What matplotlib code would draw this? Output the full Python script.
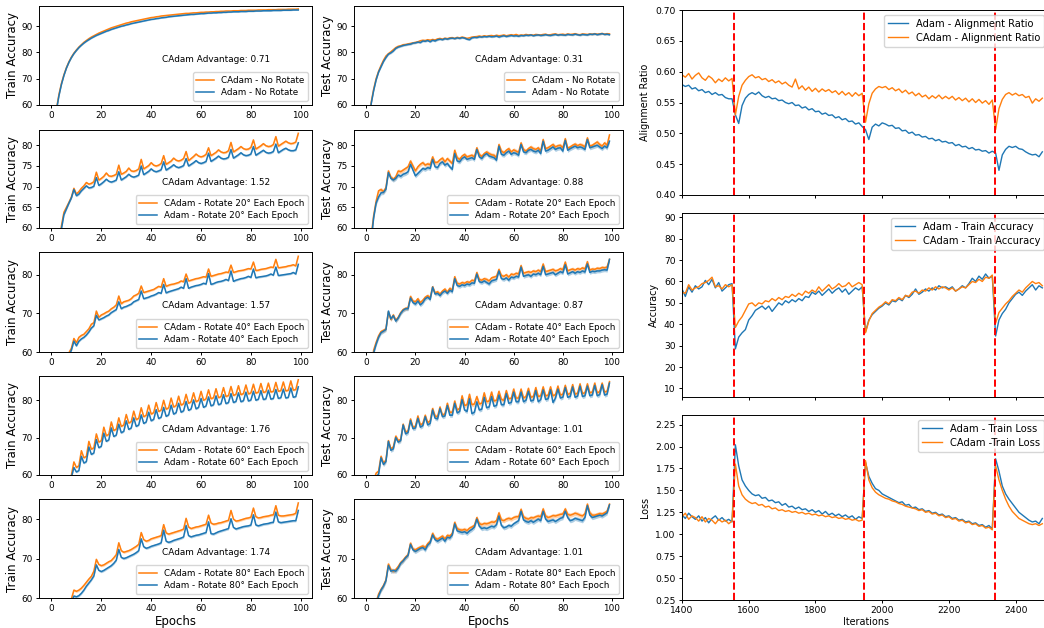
import matplotlib.pyplot as plt
import numpy as np

# ---------------- data: left grid (accuracy per epoch, 100 epochs) ----------------
epochs = np.arange(100)

row_names = ['No Rotate', 'Rotate 20° Each Epoch', 'Rotate 40° Each Epoch',
             'Rotate 60° Each Epoch', 'Rotate 80° Each Epoch']
train_advantage = [0.71, 1.52, 1.57, 1.76, 1.74]
test_advantage = [0.31, 0.88, 0.87, 1.01, 1.01]
train_band = [0.2, 0.25, 0.25, 0.25, 0.3]   # std half width
test_band = [0.35, 0.5, 0.5, 0.55, 0.55]

adam_train_nr = [38, 50, 58, 63.5, 67.8, 71.2, 74.0, 76.2, 78.0, 79.5,
                 80.7, 81.8, 82.7, 83.5, 84.2, 84.8, 85.4, 85.9, 86.4, 86.8,
                 87.2, 87.6, 88.0, 88.3, 88.7, 89.0, 89.3, 89.6, 89.9, 90.1,
                 90.4, 90.6, 90.9, 91.1, 91.3, 91.5, 91.7, 91.9, 92.1, 92.3,
                 92.5, 92.6, 92.8, 92.9, 93.1, 93.2, 93.3, 93.5, 93.6, 93.7,
                 93.8, 93.9, 94.0, 94.1, 94.2, 94.3, 94.4, 94.4, 94.5, 94.6,
                 94.7, 94.7, 94.8, 94.9, 94.9, 95.0, 95.0, 95.1, 95.1, 95.2,
                 95.2, 95.3, 95.3, 95.4, 95.4, 95.4, 95.5, 95.5, 95.5, 95.6,
                 95.6, 95.6, 95.7, 95.7, 95.7, 95.8, 95.8, 95.8, 95.8, 95.9,
                 95.9, 95.9, 95.9, 96.0, 96.0, 96.0, 96.0, 96.1, 96.1, 96.1]
cadam_train_nr = [37, 50, 58.5, 64, 68.2, 71.5, 74.2, 76.4, 78.2, 79.7,
                  80.9, 82.0, 82.9, 83.8, 84.5, 85.2, 85.8, 86.3, 86.8, 87.3,
                  87.7, 88.1, 88.5, 88.9, 89.3, 89.6, 89.9, 90.2, 90.5, 90.8,
                  91.1, 91.3, 91.6, 91.8, 92.0, 92.2, 92.4, 92.6, 92.8, 93.0,
                  93.2, 93.3, 93.5, 93.6, 93.8, 93.9, 94.0, 94.1, 94.2, 94.3,
                  94.4, 94.5, 94.6, 94.7, 94.8, 94.8, 94.9, 95.0, 95.0, 95.1,
                  95.2, 95.2, 95.3, 95.3, 95.4, 95.4, 95.5, 95.5, 95.6, 95.6,
                  95.7, 95.7, 95.7, 95.8, 95.8, 95.8, 95.9, 95.9, 95.9, 96.0,
                  96.0, 96.0, 96.0, 96.1, 96.1, 96.1, 96.1, 96.2, 96.2, 96.2,
                  96.2, 96.3, 96.3, 96.3, 96.3, 96.4, 96.4, 96.4, 96.4, 96.5]
adam_test_nr = [35, 52, 60.5, 65.5, 69.5, 72.5, 74.5, 76.5, 78.0, 79.3,
                79.8, 80.5, 81.5, 82.0, 82.3, 82.6, 82.8, 83.0, 83.1, 83.5,
                83.6, 83.9, 83.7, 84.3, 84.2, 84.5, 84.0, 84.6, 84.3, 84.8,
                85.0, 84.8, 85.2, 85.0, 85.3, 85.4, 85.2, 85.5, 85.3, 85.6,
                85.4, 85.0, 84.8, 85.5, 85.7, 85.6, 85.9, 85.8, 86.0, 85.9,
                86.1, 85.9, 86.0, 86.2, 85.8, 86.1, 86.3, 86.0, 86.2, 86.4,
                86.2, 86.3, 86.1, 86.4, 86.3, 86.5, 86.4, 86.6, 86.3, 86.5,
                86.6, 86.4, 86.5, 86.7, 86.5, 86.4, 86.6, 86.8, 86.5, 86.7,
                86.6, 86.5, 86.8, 86.7, 86.6, 86.9, 86.7, 86.5, 86.8, 86.7,
                86.6, 86.9, 86.8, 87.0, 86.7, 86.9, 87.1, 86.8, 86.9, 86.7]
cadam_test_nr = [36, 53, 61, 66, 70, 72.8, 75.0, 77.0, 78.6, 79.5,
                 80.2, 81.0, 81.8, 82.3, 82.5, 82.9, 83.0, 83.2, 83.4, 83.6,
                 83.8, 84.0, 84.4, 84.6, 84.5, 84.8, 84.6, 84.9, 84.7, 85.1,
                 85.3, 85.0, 85.4, 85.2, 85.5, 85.6, 85.3, 85.7, 85.5, 85.8,
                 85.6, 85.3, 85.5, 85.8, 85.9, 86.0, 86.2, 86.0, 86.3, 86.1,
                 86.3, 86.4, 86.2, 86.5, 86.3, 86.4, 86.6, 86.3, 86.5, 86.7,
                 86.5, 86.8, 86.4, 86.6, 86.5, 86.8, 86.6, 86.7, 86.5, 86.8,
                 86.7, 86.6, 86.8, 86.9, 86.6, 86.7, 86.9, 87.0, 86.7, 86.8,
                 86.9, 86.7, 87.0, 86.8, 86.9, 87.1, 86.8, 86.7, 87.0, 86.9,
                 86.8, 87.0, 86.9, 87.1, 86.9, 87.0, 87.2, 86.9, 87.1, 87.0]

cadam_train_20 = [30, 42, 50, 56, 60.5, 63.8, 65.0, 66.2, 67.5, 69.6,
                  68.2, 68.8, 69.6, 70.2, 71.0, 70.6, 70.8, 71.2, 73.5,
                  71.6, 72.0, 72.5, 73.3, 72.6, 72.5, 72.7, 73.0, 75.2,
                  73.0, 73.3, 73.7, 74.5, 73.8, 73.7, 73.9, 74.3, 76.6,
                  74.3, 74.7, 75.1, 75.8, 75.2, 75.0, 75.2, 75.6, 77.5,
                  75.4, 75.8, 76.2, 76.9, 76.4, 76.2, 76.4, 76.8, 78.5,
                  76.3, 76.8, 77.3, 77.9, 77.4, 77.2, 77.4, 77.8, 79.4,
                  77.5, 77.9, 78.3, 78.9, 78.4, 78.2, 78.3, 78.7, 80.7,
                  78.4, 78.8, 79.2, 79.7, 79.2, 79.0, 79.1, 79.5, 81.3,
                  79.1, 79.5, 79.9, 80.4, 79.9, 79.7, 79.8, 80.2, 82.1,
                  79.8, 80.2, 80.6, 81.0, 80.6, 80.4, 80.5, 80.8, 82.9]
adam_train_20 = [30, 42, 50, 55.5, 59.8, 63.2, 64.6, 66.0, 67.3, 69.3,
                 67.8, 68.2, 69.0, 69.6, 70.2, 69.7, 69.8, 70.1, 72.2,
                 70.3, 70.7, 71.2, 71.8, 71.3, 71.1, 71.3, 71.6, 73.6,
                 71.6, 72.0, 72.4, 73.0, 72.5, 72.3, 72.5, 72.8, 75.0,
                 72.9, 73.3, 73.7, 74.3, 73.8, 73.6, 73.8, 74.1, 76.0,
                 74.0, 74.4, 74.8, 75.3, 74.8, 74.6, 74.8, 75.1, 76.8,
                 75.0, 75.4, 75.8, 76.3, 75.8, 75.6, 75.8, 76.1, 78.1,
                 76.1, 76.5, 76.9, 77.4, 76.9, 76.7, 76.8, 77.1, 79.0,
                 76.9, 77.3, 77.7, 78.2, 77.7, 77.5, 77.6, 77.9, 79.7,
                 77.6, 78.0, 78.4, 78.8, 78.3, 78.1, 78.2, 78.5, 80.3,
                 78.2, 78.6, 79.0, 79.3, 78.9, 78.7, 78.7, 78.9, 80.6]
cadam_test_20 = [35, 50, 58, 63, 66.5, 69.0, 69.3, 68.8, 69.8, 73.8,
                 72.3, 71.8, 72.4, 73.8, 73.6, 74.0, 74.4, 74.8, 76.2,
                 75.0, 73.8, 74.8, 75.4, 75.8, 75.2, 75.5, 75.3, 77.2,
                 75.8, 75.9, 76.5, 76.9, 76.0, 76.8, 76.2, 75.6, 78.8,
                 77.0, 76.6, 77.4, 77.8, 77.2, 77.4, 77.6, 77.2, 79.4,
                 77.8, 77.3, 78.0, 78.4, 78.0, 77.7, 77.6, 77.0, 80.2,
                 78.6, 78.2, 78.8, 79.2, 78.4, 78.9, 78.6, 78.3, 80.6,
                 79.0, 78.6, 79.2, 79.6, 79.2, 79.0, 79.4, 78.6, 81.4,
                 79.2, 79.4, 79.8, 80.2, 79.6, 79.9, 80.0, 79.4, 81.6,
                 79.3, 79.6, 80.0, 80.3, 79.9, 80.2, 80.0, 79.6, 81.8,
                 79.8, 80.0, 80.4, 80.8, 80.2, 79.8, 80.6, 80.0, 82.5]
adam_test_20 = [33, 48, 57, 62.5, 66.0, 67.5, 68.5, 68.6, 69.4, 73.4,
                72.0, 71.6, 72.0, 72.8, 72.5, 73.0, 73.2, 73.6, 75.4,
                74.0, 72.6, 73.2, 73.8, 74.4, 74.2, 74.6, 74.4, 76.6,
                74.8, 74.6, 75.6, 76.0, 75.2, 75.6, 74.8, 74.2, 78.0,
                76.2, 76.0, 76.8, 77.2, 76.6, 76.8, 77.0, 76.6, 79.0,
                77.2, 76.8, 77.6, 78.0, 77.4, 77.2, 77.0, 76.4, 79.8,
                77.8, 77.6, 78.2, 78.6, 77.8, 78.2, 78.0, 77.6, 80.2,
                78.4, 78.2, 78.8, 79.0, 78.6, 78.4, 78.8, 78.0, 81.0,
                78.6, 78.8, 79.2, 79.6, 79.0, 79.3, 79.4, 78.6, 81.2,
                78.8, 79.2, 79.5, 79.8, 79.4, 79.6, 79.4, 79.0, 81.4,
                79.4, 79.6, 79.8, 80.0, 79.6, 79.2, 79.8, 79.4, 81.0]

cadam_train_40 = [25, 35, 42, 48, 52, 55, 57.5, 59.8, 61.0, 63.5,
                  62.4, 63.8, 64.3, 64.6, 65.3, 66.0, 67.2, 67.6, 70.6,
                  69.0, 69.6, 69.9, 70.3, 70.6, 71.2, 71.6, 72.2, 74.5,
                  72.5, 73.0, 73.2, 73.4, 73.8, 74.5, 74.8, 75.2, 77.1,
                  75.4, 75.6, 75.8, 76.0, 76.2, 76.6, 77.0, 76.8, 79.0,
                  77.0, 77.3, 77.5, 77.6, 77.8, 78.0, 78.4, 78.2, 80.2,
                  78.4, 78.6, 78.8, 79.0, 79.1, 79.3, 79.5, 79.4, 81.5,
                  79.6, 79.8, 80.0, 80.2, 80.3, 80.5, 80.7, 80.6, 82.5,
                  80.6, 80.8, 81.0, 81.1, 81.2, 81.4, 81.6, 81.5, 83.3,
                  81.1, 81.2, 81.4, 81.5, 81.6, 81.8, 82.0, 81.9, 84.0,
                  81.8, 81.9, 82.0, 82.1, 82.3, 82.4, 82.6, 82.3, 84.8]
adam_train_40 = [25, 35, 42, 47.5, 51.5, 54.5, 57, 59.0, 60.5, 62.8,
                 61.6, 62.8, 63.4, 63.8, 64.4, 65.2, 66.2, 66.8, 69.5,
                 68.3, 68.6, 68.9, 69.3, 69.6, 70.2, 70.6, 71.0, 73.0,
                 71.2, 71.6, 71.8, 72.1, 72.4, 73.0, 73.3, 73.6, 75.8,
                 73.8, 74.0, 74.2, 74.5, 74.7, 75.0, 75.4, 75.2, 77.5,
                 75.3, 75.6, 75.8, 76.0, 76.2, 76.4, 76.8, 76.5, 79.0,
                 76.5, 76.8, 77.0, 77.2, 77.3, 77.5, 77.8, 77.6, 80.3,
                 77.5, 77.7, 78.0, 78.2, 78.3, 78.5, 78.8, 78.5, 81.0,
                 78.3, 78.6, 78.8, 79.0, 79.1, 79.3, 79.6, 79.3, 81.5,
                 79.2, 79.4, 79.5, 79.6, 79.7, 79.9, 80.2, 79.9, 82.0,
                 79.8, 79.9, 80.0, 80.1, 80.2, 80.3, 80.6, 80.2, 82.7]
cadam_test_40 = [30, 45, 55, 60.5, 62.5, 64.2, 65.3, 65.6, 66.0, 70.4,
                 68.4, 69.6, 68.2, 69.0, 70.2, 71.0, 71.3, 71.4, 74.4,
                 73.2, 73.0, 73.8, 72.8, 73.4, 74.2, 74.6, 74.0, 76.9,
                 75.3, 75.6, 75.0, 75.8, 76.3, 75.5, 76.5, 76.0, 79.5,
                 77.8, 77.6, 78.0, 77.8, 78.2, 78.0, 78.6, 78.4, 80.6,
                 78.8, 78.6, 79.0, 78.8, 78.4, 79.2, 79.4, 79.6, 81.4,
                 79.8, 79.6, 80.0, 79.4, 80.2, 80.0, 80.4, 80.2, 82.4,
                 80.4, 80.6, 80.8, 80.6, 81.0, 80.8, 81.2, 80.8, 82.8,
                 80.8, 81.0, 81.2, 81.4, 81.0, 81.2, 81.6, 81.3, 83.3,
                 81.0, 81.3, 81.5, 81.2, 81.6, 81.4, 81.8, 81.5, 83.4,
                 81.2, 81.5, 81.4, 81.7, 81.6, 81.9, 81.8, 82.0, 84.0]
adam_test_40 = [28, 43, 54, 59.8, 62.0, 63.8, 65.0, 65.4, 65.8, 70.6,
                68.6, 69.4, 68.0, 68.8, 70.0, 70.8, 71.2, 71.2, 74.0,
                72.8, 72.4, 73.2, 72.2, 72.8, 73.8, 74.2, 73.6, 76.8,
                75.0, 75.2, 74.6, 75.4, 75.8, 75.2, 76.0, 75.6, 79.0,
                77.2, 77.0, 77.4, 77.2, 77.6, 77.4, 77.9, 77.8, 80.2,
                78.2, 78.0, 78.4, 78.0, 77.6, 78.4, 78.6, 78.8, 81.0,
                79.0, 78.8, 79.2, 78.6, 79.4, 79.2, 79.6, 79.4, 82.0,
                79.6, 79.8, 80.0, 79.6, 80.2, 80.0, 80.4, 80.0, 82.2,
                80.0, 80.2, 80.4, 80.6, 80.0, 80.4, 80.8, 80.5, 82.6,
                80.2, 80.5, 80.8, 80.4, 80.8, 80.6, 81.0, 80.7, 82.8,
                80.6, 80.9, 80.8, 81.0, 81.0, 81.2, 81.3, 81.2, 84.0]

cadam_train_60 = [20, 30, 38, 44, 49, 53, 56, 58.2, 60.0,
                  63.5, 62.0, 62.5, 66.5, 64.6, 65.0, 69.0, 66.9, 67.3,
                  71.0, 68.8, 69.2, 72.8, 70.5, 70.9, 74.2, 71.9, 72.3,
                  75.3, 73.0, 73.4, 76.2, 73.9, 74.3, 77.1, 74.8, 75.2,
                  78.0, 75.6, 76.0, 78.7, 76.3, 76.7, 79.4, 77.0, 77.4,
                  80.0, 77.6, 78.0, 80.6, 78.2, 78.6, 81.1, 78.7, 79.1,
                  81.6, 79.2, 79.6, 82.0, 79.6, 80.0, 82.4, 80.0, 80.4,
                  82.8, 80.4, 80.7, 83.1, 80.7, 81.0, 83.4, 81.0, 81.3,
                  83.7, 81.3, 81.6, 83.9, 81.5, 81.8, 84.1, 81.7, 82.0,
                  84.3, 81.9, 82.2, 84.5, 82.1, 82.3, 84.6, 82.2, 82.4,
                  84.8, 82.4, 82.6, 84.9, 82.5, 82.7, 85.2, 82.7, 82.9,
                  85.5]
adam_train_60 = [20, 30, 38, 44, 48.5, 52.5, 55.5, 57.8, 59.4,
                 62.0, 60.8, 61.2, 65.0, 63.2, 63.6, 67.5, 65.5, 65.9,
                 69.5, 67.3, 67.7, 71.2, 69.0, 69.4, 72.6, 70.3, 70.7,
                 73.6, 71.3, 71.7, 74.5, 72.2, 72.6, 75.3, 73.0, 73.4,
                 76.1, 73.8, 74.2, 76.8, 74.5, 74.9, 77.5, 75.1, 75.5,
                 78.1, 75.7, 76.1, 78.7, 76.3, 76.7, 79.2, 76.8, 77.2,
                 79.7, 77.3, 77.7, 80.1, 77.7, 78.1, 80.5, 78.1, 78.5,
                 80.9, 78.5, 78.8, 81.2, 78.8, 79.1, 81.5, 79.1, 79.4,
                 81.8, 79.4, 79.7, 82.0, 79.6, 79.9, 82.2, 79.8, 80.1,
                 82.4, 80.0, 80.3, 82.6, 80.2, 80.4, 82.7, 80.3, 80.5,
                 82.9, 80.5, 80.7, 83.0, 80.6, 80.8, 83.3, 80.8, 81.0,
                 83.6]
cadam_test_60 = [30, 44, 53, 58.5, 60.5, 61.0,
                 65.0, 63.2, 64.0, 69.2, 67.0, 67.5, 70.4, 69.2, 69.5,
                 73.6, 71.5, 71.8, 75.0, 72.8, 73.0, 75.8, 73.4, 73.8,
                 76.0, 74.0, 74.5, 77.8, 75.8, 75.6, 78.2, 76.0, 76.4,
                 79.2, 76.8, 76.8, 79.8, 77.4, 77.8, 81.2, 78.6, 78.8,
                 81.6, 78.8, 79.0, 81.0, 79.0, 79.2, 82.0, 79.6, 79.8,
                 82.2, 79.8, 80.0, 82.4, 80.2, 80.0, 82.6, 80.4, 80.5,
                 83.0, 80.6, 80.6, 83.0, 80.6, 81.0, 83.2, 80.8, 81.0,
                 83.4, 81.0, 81.2, 83.6, 81.2, 81.3, 83.6, 81.2, 81.5,
                 83.8, 81.4, 81.6, 84.0, 81.6, 81.8, 84.2, 81.6, 81.9,
                 84.4, 81.8, 82.0, 84.4, 82.0, 82.2, 84.6, 82.0, 82.3,
                 84.6, 82.2, 82.4, 85.0]
adam_test_60 = [28, 42, 52, 57.5, 59.5, 60.2,
                64.6, 62.8, 63.6, 69.0, 66.6, 67.0, 70.0, 68.8, 69.2,
                73.4, 71.0, 71.4, 74.6, 72.4, 72.6, 75.2, 72.8, 73.2,
                75.6, 73.4, 73.8, 77.4, 75.2, 75.0, 77.8, 75.6, 75.8,
                78.6, 76.0, 76.0, 79.2, 76.6, 77.0, 80.2, 77.4, 77.0,
                80.4, 76.4, 76.8, 79.6, 77.4, 77.6, 80.8, 78.0, 78.2,
                81.0, 78.4, 78.6, 81.4, 78.8, 78.8, 81.8, 79.2, 79.4,
                82.2, 79.6, 79.6, 82.2, 79.6, 80.0, 82.4, 79.8, 80.0,
                82.6, 79.6, 80.2, 82.8, 80.2, 80.4, 82.8, 79.4, 80.6,
                83.0, 80.6, 80.8, 83.4, 80.8, 81.0, 83.6, 80.8, 81.1,
                83.8, 81.0, 81.2, 83.8, 81.2, 81.4, 84.0, 81.2, 81.5,
                84.2, 81.4, 81.6, 84.6]

cadam_train_80 = [20, 30, 38, 44, 49, 53, 56, 58.2, 59.8,
                  62.0, 61.7, 62.0, 62.5, 63.2, 64.0, 64.8, 65.5, 66.8,
                  69.8, 68.5, 68.2, 68.4, 68.8, 69.2, 69.5, 70.2, 71.0,
                  74.0, 72.0, 71.6, 71.8, 72.0, 72.3, 72.7, 73.1, 73.6,
                  76.6, 74.8, 74.4, 74.6, 75.0, 75.2, 75.4, 75.6, 75.8,
                  78.6, 76.5, 76.2, 76.4, 76.6, 76.8, 77.0, 77.2, 77.5,
                  80.2, 78.0, 77.6, 77.8, 78.0, 78.1, 78.3, 78.5, 78.7,
                  81.0, 79.0, 78.7, 78.8, 79.0, 79.1, 79.3, 79.5, 79.7,
                  82.2, 80.0, 79.5, 79.6, 79.8, 80.0, 80.2, 80.3, 80.5,
                  82.8, 80.6, 80.3, 80.4, 80.6, 80.7, 80.8, 81.0, 81.1,
                  83.4, 81.0, 80.8, 80.8, 80.9, 81.0, 81.1, 81.2, 81.5,
                  84.1]
adam_train_80 = [20, 30, 38, 44, 48.5, 52.5, 55.5, 57.5, 59.0,
                 60.5, 60.3, 60.6, 61.2, 62.0, 63.0, 63.8, 64.6, 65.6,
                 68.4, 67.0, 66.7, 67.0, 67.4, 67.8, 68.2, 68.8, 69.6,
                 72.3, 70.3, 70.0, 70.2, 70.5, 70.8, 71.1, 71.5, 72.0,
                 75.0, 73.0, 72.6, 72.8, 73.1, 73.3, 73.5, 73.7, 74.0,
                 77.2, 74.4, 74.1, 74.3, 74.6, 74.8, 75.0, 75.2, 75.5,
                 78.4, 75.8, 75.5, 75.7, 75.9, 76.0, 76.2, 76.4, 76.6,
                 79.3, 76.3, 76.2, 76.5, 76.8, 77.0, 77.2, 77.4, 77.6,
                 80.1, 77.9, 77.5, 77.7, 77.9, 78.1, 78.2, 78.3, 78.5,
                 81.1, 78.5, 78.3, 78.5, 78.7, 78.8, 78.9, 79.1, 79.2,
                 81.8, 79.3, 79.1, 79.2, 79.3, 79.4, 79.5, 79.6, 79.6,
                 82.2]
cadam_test_80 = [28, 40, 50, 56, 59, 61.0, 62.2, 63.2, 64.6,
                 68.6, 67.2, 66.8, 67.2, 68.0, 69.0, 69.6, 70.4, 71.0,
                 73.9, 72.4, 72.2, 72.6, 72.9, 73.2, 72.8, 73.8, 74.4,
                 76.4, 75.2, 74.9, 75.3, 75.7, 75.0, 75.9, 75.7, 76.4,
                 79.2, 77.6, 77.3, 77.2, 77.4, 77.1, 77.7, 78.0, 78.4,
                 80.4, 78.9, 78.6, 78.9, 78.8, 79.0, 79.3, 79.2, 79.6,
                 81.6, 79.8, 79.6, 80.0, 80.2, 80.0, 80.4, 80.6, 80.6,
                 82.5, 80.6, 80.2, 80.0, 80.4, 80.3, 80.6, 80.8, 80.6,
                 82.6, 80.8, 80.4, 80.6, 80.9, 80.8, 81.0, 81.2, 81.3,
                 82.6, 81.2, 81.0, 81.2, 81.5, 81.3, 81.0, 80.8, 81.4,
                 83.8, 81.6, 81.0, 81.0, 81.2, 81.4, 81.3, 81.6, 82.0,
                 83.8]
adam_test_80 = [26, 38, 48, 55, 58.5, 60.5, 62.0, 63.0, 64.4,
                68.2, 66.8, 67.0, 66.8, 67.6, 68.8, 69.4, 70.2, 70.8,
                73.6, 72.2, 71.8, 72.2, 72.6, 72.8, 72.2, 73.4, 74.0,
                76.0, 74.8, 74.4, 74.8, 75.2, 74.4, 75.4, 75.2, 76.0,
                78.8, 77.0, 76.8, 76.6, 76.8, 76.4, 77.0, 77.4, 78.0,
                80.0, 78.2, 77.6, 77.8, 77.6, 77.9, 78.2, 78.0, 78.6,
                80.8, 78.4, 77.8, 78.0, 78.4, 78.2, 78.8, 79.2, 79.6,
                82.0, 79.8, 79.4, 79.2, 79.6, 79.2, 79.6, 80.0, 79.6,
                82.0, 80.0, 79.4, 79.6, 79.8, 79.4, 79.8, 80.2, 80.4,
                82.0, 80.4, 79.6, 79.8, 80.2, 80.0, 79.8, 79.6, 80.4,
                83.4, 81.0, 80.4, 80.6, 80.8, 81.0, 80.8, 81.2, 81.6,
                83.6]

# ---------------- data: right column (every 10 iterations from 1400) ----------------
iter_start, iter_step = 1400, 10
rotation_iters = [1556, 1947, 2338]

adam_align = [0.579, 0.576, 0.578, 0.572, 0.574, 0.569, 0.571, 0.566, 0.568, 0.563,
              0.566, 0.562, 0.563, 0.558, 0.556, 0.556, 0.530, 0.516, 0.545, 0.557,
              0.563, 0.566, 0.563, 0.567, 0.561, 0.558, 0.560, 0.556, 0.557, 0.553,
              0.554, 0.550, 0.548, 0.550, 0.545, 0.546, 0.541, 0.543, 0.538, 0.540,
              0.535, 0.536, 0.531, 0.533, 0.529, 0.530, 0.525, 0.527, 0.522, 0.524,
              0.519, 0.520, 0.515, 0.517, 0.511, 0.506, 0.490, 0.510, 0.515, 0.512,
              0.517, 0.515, 0.512, 0.513, 0.508, 0.509, 0.504, 0.505, 0.500, 0.502,
              0.497, 0.498, 0.494, 0.495, 0.491, 0.492, 0.488, 0.490, 0.486, 0.487,
              0.484, 0.485, 0.480, 0.482, 0.478, 0.479, 0.475, 0.477, 0.473, 0.474,
              0.471, 0.472, 0.468, 0.471, 0.468, 0.440, 0.465, 0.474, 0.479, 0.477,
              0.479, 0.475, 0.474, 0.470, 0.467, 0.465, 0.466, 0.462, 0.470]
cadam_align = [0.595, 0.591, 0.597, 0.588, 0.594, 0.598, 0.590, 0.586, 0.593, 0.589,
               0.582, 0.588, 0.584, 0.590, 0.585, 0.589, 0.530, 0.560, 0.578, 0.586,
               0.592, 0.595, 0.590, 0.592, 0.587, 0.589, 0.584, 0.587, 0.582, 0.585,
               0.580, 0.583, 0.578, 0.575, 0.588, 0.572, 0.577, 0.570, 0.575, 0.568,
               0.573, 0.567, 0.572, 0.568, 0.571, 0.566, 0.569, 0.563, 0.568, 0.562,
               0.566, 0.560, 0.566, 0.561, 0.565, 0.518, 0.548, 0.565, 0.572, 0.576,
               0.574, 0.576, 0.571, 0.574, 0.569, 0.572, 0.566, 0.570, 0.564, 0.567,
               0.561, 0.565, 0.559, 0.562, 0.556, 0.561, 0.557, 0.562, 0.556, 0.560,
               0.556, 0.560, 0.554, 0.558, 0.553, 0.557, 0.551, 0.556, 0.550, 0.555,
               0.549, 0.553, 0.547, 0.554, 0.506, 0.540, 0.555, 0.563, 0.566, 0.562,
               0.565, 0.561, 0.563, 0.558, 0.560, 0.549, 0.556, 0.552, 0.557]

adam_acc = [56.5, 53.0, 57.5, 55.0, 58.0, 56.5, 57.5, 60.5, 58.5, 61.0,
            57.0, 59.5, 55.5, 57.0, 58.5, 59.0, 28.5, 34.0, 36.0, 37.5,
            42.0, 44.0, 46.5, 47.5, 48.5, 47.0, 48.5, 46.0, 48.0, 50.0,
            49.0, 51.0, 50.0, 51.5, 50.5, 52.0, 51.0, 53.0, 52.5, 55.0,
            54.0, 55.5, 53.5, 55.0, 56.5, 54.5, 56.0, 57.0, 55.0, 56.5,
            54.0, 55.5, 57.0, 56.0, 57.5, 36.5, 42.0, 44.5, 46.0, 47.5,
            48.5, 50.0, 49.0, 51.0, 50.5, 52.0, 51.0, 53.5, 52.5, 54.0,
            56.5, 54.0, 55.0, 56.5, 55.5, 57.0, 56.0, 58.0, 57.0, 57.5,
            56.5, 57.5, 55.5, 56.5, 58.0, 57.0, 59.0, 61.5, 60.0, 62.5,
            61.0, 63.5, 61.5, 62.5, 34.5, 42.0, 45.0, 47.0, 50.0, 52.0,
            54.0, 55.0, 53.5, 55.5, 57.0, 58.5, 56.0, 58.0, 57.0]
cadam_acc = [55.0, 54.5, 58.5, 56.0, 57.0, 57.5, 59.0, 59.5, 60.5, 62.0,
             57.5, 58.0, 56.5, 58.5, 57.5, 58.5, 38.5, 41.5, 43.5, 46.5,
             49.5, 50.0, 48.5, 50.0, 49.5, 51.0, 50.5, 52.0, 51.0, 52.5,
             51.5, 53.0, 52.5, 54.0, 53.0, 54.5, 53.5, 55.5, 54.5, 56.0,
             55.0, 57.5, 55.5, 57.0, 58.5, 56.5, 57.5, 59.0, 57.5, 58.0,
             59.5, 57.5, 58.5, 59.5, 58.5, 36.0, 41.5, 45.0, 46.5, 48.0,
             49.0, 50.5, 49.5, 51.5, 51.0, 52.5, 51.5, 53.5, 53.0, 55.0,
             55.5, 54.5, 56.0, 55.5, 57.0, 56.0, 57.5, 56.5, 57.5, 57.0,
             56.0, 57.0, 55.5, 56.5, 57.5, 57.0, 58.5, 60.0, 59.5, 61.0,
             60.0, 62.0, 61.5, 63.0, 40.5, 45.5, 47.5, 49.5, 51.0, 53.0,
             54.5, 56.0, 55.0, 57.0, 58.5, 60.0, 59.0, 59.5, 58.0]

adam_loss = [1.22, 1.18, 1.24, 1.20, 1.17, 1.21, 1.15, 1.19, 1.13, 1.18,
             1.21, 1.16, 1.19, 1.15, 1.17, 1.14, 2.02, 1.78, 1.62, 1.55,
             1.50, 1.46, 1.44, 1.45, 1.41, 1.42, 1.38, 1.39, 1.36, 1.37,
             1.33, 1.35, 1.31, 1.32, 1.29, 1.31, 1.28, 1.29, 1.26, 1.28,
             1.25, 1.27, 1.23, 1.26, 1.22, 1.24, 1.21, 1.23, 1.20, 1.22,
             1.19, 1.21, 1.17, 1.20, 1.18, 1.82, 1.66, 1.58, 1.52, 1.50,
             1.46, 1.44, 1.42, 1.40, 1.38, 1.36, 1.37, 1.33, 1.34, 1.30,
             1.31, 1.28, 1.29, 1.26, 1.27, 1.24, 1.25, 1.22, 1.23, 1.20,
             1.21, 1.18, 1.19, 1.16, 1.17, 1.14, 1.15, 1.12, 1.13, 1.10,
             1.11, 1.08, 1.10, 1.06, 1.86, 1.72, 1.55, 1.46, 1.40, 1.35,
             1.30, 1.25, 1.22, 1.19, 1.16, 1.14, 1.15, 1.12, 1.18]
cadam_loss = [1.20, 1.24, 1.17, 1.21, 1.19, 1.15, 1.20, 1.14, 1.18, 1.16,
              1.12, 1.17, 1.14, 1.16, 1.12, 1.15, 1.80, 1.55, 1.45, 1.40,
              1.37, 1.35, 1.36, 1.33, 1.34, 1.31, 1.32, 1.29, 1.30, 1.27,
              1.28, 1.26, 1.27, 1.25, 1.26, 1.24, 1.25, 1.23, 1.24, 1.22,
              1.23, 1.21, 1.22, 1.20, 1.21, 1.19, 1.20, 1.18, 1.19, 1.17,
              1.18, 1.16, 1.17, 1.15, 1.16, 1.84, 1.62, 1.53, 1.48, 1.45,
              1.43, 1.41, 1.40, 1.38, 1.37, 1.35, 1.34, 1.32, 1.31, 1.30,
              1.29, 1.27, 1.28, 1.25, 1.26, 1.23, 1.24, 1.21, 1.22, 1.19,
              1.20, 1.17, 1.18, 1.15, 1.16, 1.13, 1.14, 1.11, 1.12, 1.09,
              1.10, 1.07, 1.08, 1.05, 1.78, 1.62, 1.50, 1.40, 1.32, 1.26,
              1.22, 1.18, 1.16, 1.14, 1.12, 1.11, 1.12, 1.10, 1.12]

# ---------------- figure ----------------
fig = plt.figure(figsize=(10.44, 6.28), dpi=100)
W, H = 1044, 628

train_series = [(cadam_train_nr, adam_train_nr), (cadam_train_20, adam_train_20),
                (cadam_train_40, adam_train_40), (cadam_train_60, adam_train_60),
                (cadam_train_80, adam_train_80)]
test_series = [(cadam_test_nr, adam_test_nr), (cadam_test_20, adam_test_20),
               (cadam_test_40, adam_test_40), (cadam_test_60, adam_test_60),
               (cadam_test_80, adam_test_80)]

# pixel boxes (top, bottom) for each row
row_px = [(6, 105), (130, 228), (252, 352), (376, 475), (499, 598)]
col_px = [(39, 312), (354, 623)]
row_ylim = [(60, 97.6), (60, 83.7), (60, 85.9), (60, 86.5), (60, 85.1)]
row_yticks = [[60, 70, 80, 90], [60, 65, 70, 75, 80], [60, 70, 80], [60, 70, 80], [60, 70, 80]]


def px_axes(left, right, top, bottom):
    return fig.add_axes([left / W, 1 - bottom / H, (right - left) / W, (bottom - top) / H])


for r in range(5):
    for c in range(2):
        ax = px_axes(col_px[c][0], col_px[c][1], row_px[r][0], row_px[r][1])
        cadam, adam = (train_series if c == 0 else test_series)[r]
        band = (train_band if c == 0 else test_band)[r]
        cadam = np.array(cadam)
        adam = np.array(adam)
        ax.plot(epochs, cadam, color='C1', lw=1.1, label=f'CAdam - {row_names[r]}')
        ax.fill_between(epochs, cadam - band, cadam + band, color='C1', alpha=0.35, lw=0)
        ax.plot(epochs, adam, color='C0', lw=1.1, label=f'Adam - {row_names[r]}')
        ax.fill_between(epochs, adam - band, adam + band, color='C0', alpha=0.35, lw=0)
        ax.set_xlim(-5, 104.5)
        ax.set_ylim(*row_ylim[r])
        ax.set_yticks(row_yticks[r])
        ax.set_xticks([0, 20, 40, 60, 80, 100])
        ax.tick_params(labelsize=6.4, length=2.5, width=0.7, pad=2)
        for s in ax.spines.values():
            s.set_linewidth(0.7)
        adv = (train_advantage if c == 0 else test_advantage)[r]
        ax.text(0.65, 0.46, f'CAdam Advantage: {adv:.2f}', transform=ax.transAxes,
                ha='center', va='center', fontsize=6.4)
        ax.legend(loc='lower right', fontsize=6.3, handlelength=2.0, borderpad=0.4,
                  labelspacing=0.4, framealpha=0.8)
        ax.set_ylabel('Train Accuracy' if c == 0 else 'Test Accuracy', fontsize=8.5, labelpad=2)
        if r == 4:
            ax.set_xlabel('Epochs', fontsize=8.5, labelpad=1)

# right column
iters = iter_start + iter_step * np.arange(len(adam_align))
right_px = [(10, 195), (213, 397), (415, 600)]
ax1 = px_axes(682, 1049, *right_px[0])
ax2 = px_axes(682, 1049, *right_px[1])
ax3 = px_axes(682, 1049, *right_px[2])

ax1.plot(iters, adam_align, color='C0', lw=1.0, label='Adam - Alignment Ratio')
ax1.plot(iters, cadam_align, color='C1', lw=1.0, label='CAdam - Alignment Ratio')
ax1.set_ylim(0.40, 0.70)
ax1.set_ylabel('Alignment Ratio', fontsize=6.9)

ax2.plot(iters, adam_acc, color='C0', lw=1.0, label='Adam - Train Accuracy')
ax2.plot(iters, cadam_acc, color='C1', lw=1.0, label='CAdam - Train Accuracy')
ax2.set_ylim(6, 92)
ax2.set_yticks([10, 20, 30, 40, 50, 60, 70, 80, 90])
ax2.set_ylabel('Accuracy', fontsize=6.9)

ax3.plot(iters, adam_loss, color='C0', lw=1.0, label='Adam - Train Loss')
ax3.plot(iters, cadam_loss, color='C1', lw=1.0, label='CAdam -Train Loss')
ax3.set_ylim(0.25, 2.36)
ax3.set_yticks([0.25, 0.5, 0.75, 1.0, 1.25, 1.5, 1.75, 2.0, 2.25])
ax3.set_ylabel('Loss', fontsize=6.9)
ax3.set_xlabel('Iterations', fontsize=6.9, labelpad=1)

for ax in (ax1, ax2, ax3):
    for it in rotation_iters:
        ax.axvline(it, color='red', ls='--', lw=1.4)
    ax.set_xlim(1400, 2500)
    ax.set_xticks([1400, 1600, 1800, 2000, 2200, 2400])
    ax.tick_params(labelsize=6.6, length=2.5, width=0.7, pad=2)
    for s in ax.spines.values():
        s.set_linewidth(0.7)
    ax.legend(loc='upper right', fontsize=7.1, handlelength=2.0, borderpad=0.4,
              labelspacing=0.4, framealpha=0.8)
ax1.tick_params(labelbottom=False)
ax2.tick_params(labelbottom=False)

fig.savefig('out.png', dpi=100)
